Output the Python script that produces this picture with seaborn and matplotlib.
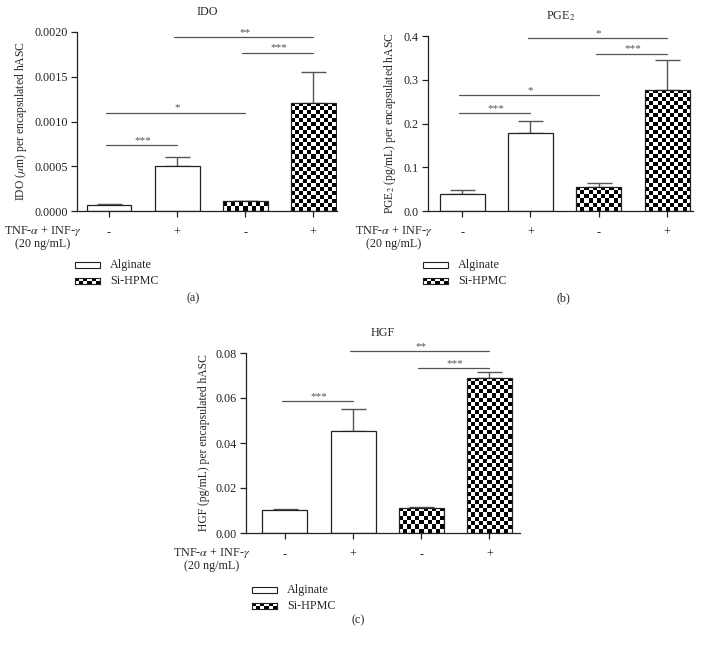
"""
Secretion of IDO, PGE2 and HGF by encapsulated hASC, with and without
TNF-alpha + INF-gamma stimulation (Alginate vs Si-HPMC).
"""

import numpy as np
import pandas as pd
import matplotlib
matplotlib.use("Agg")
import matplotlib.pyplot as plt
from matplotlib.patches import Rectangle
import seaborn as sns

sns.set_theme(style="ticks")
plt.rcParams["font.family"] = ["Liberation Serif", "DejaVu Serif"]
plt.rcParams["mathtext.fontset"] = "stix"

# ---- data ----
samples = ["Alginate -", "Alginate +", "Si-HPMC -", "Si-HPMC +"]
groups = ["Alginate", "Alginate", "Si-HPMC", "Si-HPMC"]
stim_labels = ["-", "+", "-", "+"]

ido_mean = [0.00007, 0.00050, 0.00011, 0.00121]
ido_err = [0.000005, 0.00010, 0.000005, 0.00034]
ido_sig = [(0, 1, 0.00074, "***"), (0, 2, 0.00110, "*"),
           (1, 3, 0.00194, "**"), (2, 3, 0.00177, "***")]
ido_ticks = [0.0, 0.0005, 0.0010, 0.0015, 0.0020]

pge2_mean = [0.038, 0.179, 0.056, 0.277]
pge2_err = [0.009, 0.026, 0.007, 0.068]
pge2_sig = [(0, 1, 0.223, "***"), (0, 2, 0.265, "*"),
            (1, 3, 0.395, "*"), (2, 3, 0.360, "***")]
pge2_ticks = [0.0, 0.1, 0.2, 0.3, 0.4]

hgf_mean = [0.0103, 0.0455, 0.0113, 0.0690]
hgf_err = [0.0003, 0.0098, 0.0003, 0.0026]
hgf_sig = [(0, 1, 0.0588, "***"), (1, 3, 0.0809, "**"), (2, 3, 0.0732, "***")]
hgf_ticks = [0.0, 0.02, 0.04, 0.06, 0.08]

W, H = 703, 647
GRAY = "#555555"
FS = 8.7


def px_axes(fig, left, top, right, bottom):
    return fig.add_axes([left / W, 1 - bottom / H, (right - left) / W, (bottom - top) / H])


def checker(nx, ny):
    return (np.add.outer(np.arange(ny), np.arange(nx)) % 2).astype(float)


def fill_checker(ax, patch):
    x0, y0 = patch.get_x(), patch.get_y()
    w, h = patch.get_width(), patch.get_height()
    p0 = ax.transData.transform((x0, y0))
    p1 = ax.transData.transform((x0 + w, y0 + h))
    wpx, hpx = abs(p1[0] - p0[0]), abs(p1[1] - p0[1])
    nx = 11
    ny = max(1, int(round(hpx / (wpx / nx))))
    patch.set_facecolor("none")
    im = ax.imshow(checker(nx, ny), cmap="gray", vmin=0, vmax=1, aspect="auto",
                   interpolation="nearest", extent=(x0, x0 + w, y0, y0 + h),
                   zorder=patch.get_zorder() - 0.1)
    im.set_clip_path(patch)


def draw_panel(ax, title, ylabel, means, errs, sig, ticks, fmt, xlim):
    df = pd.DataFrame({"sample": samples, "group": groups, "value": means})
    sns.barplot(data=df, x="sample", y="value", hue="group", order=samples,
                palette={"Alginate": "white", "Si-HPMC": "white"}, dodge=False,
                width=0.66, edgecolor="#222222", linewidth=0.9, errorbar=None,
                legend=False, ax=ax, zorder=2)
    ax.errorbar(np.arange(len(samples)), means, yerr=[np.zeros(len(errs)), errs],
                fmt="none", ecolor=GRAY, elinewidth=1.0, capsize=9, capthick=1.0, zorder=1)
    ax.set_xlim(*xlim)
    ax.set_ylim(ticks[0], ticks[-1])

    for patch in list(ax.patches):
        idx = int(round(patch.get_x() + patch.get_width() / 2))
        if groups[idx] == "Si-HPMC":
            fill_checker(ax, patch)
    ax.set_xlim(*xlim)
    ax.set_ylim(ticks[0], ticks[-1])

    for i, j, y, lab in sig:
        ax.plot([i - 0.04, j], [y, y], color=GRAY, lw=0.9, clip_on=False)
        ax.text((i + j) / 2, y, lab, ha="center", va="bottom", fontsize=8,
                color=GRAY)

    ax.set_yticks(ticks)
    ax.set_yticklabels([fmt % t for t in ticks], fontsize=FS)
    ax.set_xticks(range(len(samples)))
    ax.set_xticklabels(stim_labels, fontsize=FS)
    ax.set_xlabel("")
    ax.set_ylabel(ylabel, fontsize=8.4, labelpad=4)
    ax.set_title(title, fontsize=8.7, pad=12)
    ax.tick_params(direction="out", length=4.5, width=0.9, colors="#222222")
    ax.tick_params(axis="y", pad=2)
    ax.tick_params(axis="x", pad=7)
    for s in ["top", "right"]:
        ax.spines[s].set_visible(False)
    for s in ["left", "bottom"]:
        ax.spines[s].set_linewidth(0.9)
        ax.spines[s].set_color("#222222")

    ax.annotate("TNF-$\\alpha$ + INF-$\\gamma$\n(20 ng/mL)", xy=(0, 0), xycoords="axes fraction",
                xytext=(3, -9), textcoords="offset points", ha="right", va="top",
                multialignment="center", fontsize=FS, linespacing=1.1)


def draw_legend(fig, x, y):
    # white swatch
    fig.add_artist(Rectangle((x / W, 1 - (y + 6) / H), 25 / W, 6 / H,
                             transform=fig.transFigure, facecolor="white",
                             edgecolor="#222222", lw=0.8))
    fig.text((x + 35) / W, 1 - (y + 3) / H, "Alginate", fontsize=FS, va="center")
    # checker swatch
    sw = fig.add_axes([x / W, 1 - (y + 22) / H, 25 / W, 6 / H])
    sw.imshow(checker(6, 2), cmap="gray", vmin=0, vmax=1, aspect="auto",
              interpolation="nearest")
    sw.set_xticks([])
    sw.set_yticks([])
    for s in sw.spines.values():
        s.set_linewidth(0.8)
        s.set_color("#222222")
    fig.text((x + 35) / W, 1 - (y + 19) / H, "Si-HPMC", fontsize=FS, va="center")


fig = plt.figure(figsize=(W / 100, H / 100), dpi=100)

ax_a = px_axes(fig, 77, 32, 337, 211)
draw_panel(ax_a, "IDO", "IDO ($\\mu$m) per encapsulated hASC", ido_mean, ido_err,
           ido_sig, ido_ticks, "%.4f", (-0.47, 3.35))

ax_b = px_axes(fig, 428, 36, 693, 211)
draw_panel(ax_b, "PGE$_2$", "PGE$_2$ (pg/mL) per encapsulated hASC", pge2_mean, pge2_err,
           pge2_sig, pge2_ticks, "%.1f", (-0.5, 3.38))

ax_c = px_axes(fig, 246, 353, 520, 533)
draw_panel(ax_c, "HGF", "HGF (pg/mL) per encapsulated hASC", hgf_mean, hgf_err,
           hgf_sig, hgf_ticks, "%.2f", (-0.57, 3.45))

draw_legend(fig, 75, 262)
draw_legend(fig, 423, 262)
draw_legend(fig, 252, 587)

fig.text(193 / W, 1 - 298 / H, "(a)", ha="center", va="center", fontsize=FS)
fig.text(563 / W, 1 - 298 / H, "(b)", ha="center", va="center", fontsize=FS)
fig.text(358 / W, 1 - 620 / H, "(c)", ha="center", va="center", fontsize=FS)

fig.savefig("out.png", dpi=100, facecolor="white")
